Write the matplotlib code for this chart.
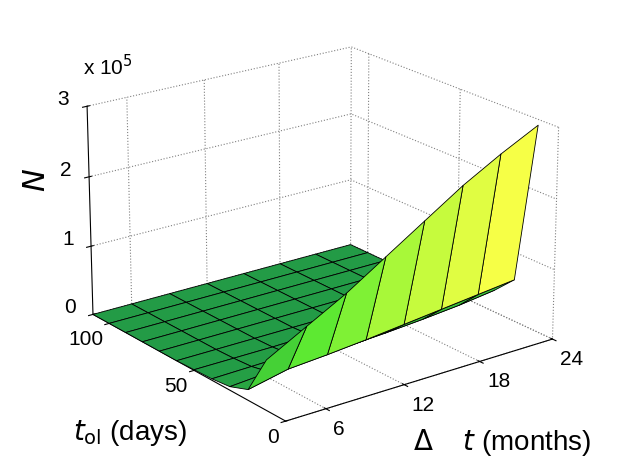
import numpy as np
import matplotlib
matplotlib.use("Agg")
import matplotlib.pyplot as plt
from matplotlib.colors import LinearSegmentedColormap, Normalize

plt.rcParams["font.family"] = ["Liberation Sans", "DejaVu Sans"]
plt.rcParams["grid.linestyle"] = ":"
plt.rcParams["grid.color"] = "#808080"
plt.rcParams["grid.linewidth"] = 0.8

# grid of the surface
dt_months = [3, 6, 9, 12, 15, 18, 21, 24]
t_ol_days = [10, 20, 30, 40, 50, 60, 70, 80, 90, 100, 110]

# N (x 1e5), one row per t_ol value
N_rows = [
    [0.70, 1.00, 1.30, 1.65, 2.00, 2.35, 2.65, 2.92],
    [0.15, 0.27, 0.31, 0.36, 0.42, 0.48, 0.54, 0.60],
    [0.05, 0.09, 0.11, 0.13, 0.16, 0.20, 0.25, 0.32],
    [0.02, 0.03, 0.04, 0.05, 0.06, 0.07, 0.09, 0.11],
    [0.01, 0.01, 0.01, 0.02, 0.02, 0.02, 0.03, 0.03],
    [0, 0, 0, 0, 0, 0, 0, 0],
    [0, 0, 0, 0, 0, 0, 0, 0],
    [0, 0, 0, 0, 0, 0, 0, 0],
    [0, 0, 0, 0, 0, 0, 0, 0],
    [0, 0, 0, 0, 0, 0, 0, 0],
    [0, 0, 0, 0, 0, 0, 0, 0],
]

x_ticks = [6, 12, 18, 24]
y_ticks = [0, 50, 100]
z_ticks = [0, 1, 2, 3]

X, Y = np.meshgrid(dt_months, t_ol_days)
Z = np.array(N_rows) * 1e5

cmap = LinearSegmentedColormap.from_list("greens", [
    (0.00, (35/255, 155/255, 70/255)),
    (0.20, (60/255, 200/255, 55/255)),
    (0.35, (95/255, 235/255, 50/255)),
    (0.60, (180/255, 250/255, 58/255)),
    (0.92, (248/255, 255/255, 70/255)),
    (1.00, (250/255, 255/255, 75/255)),
])
norm = Normalize(0, Z.max())
fcolors = cmap(norm(Z))

fig = plt.figure(figsize=(6.22, 4.68), dpi=100)
ax = fig.add_subplot(projection="3d", proj_type="persp", focal_length=1.2)
ax.set_position([0.005, 0.01, 1.0, 1.0])
ax.set_box_aspect((4.3, 4.3, 2.9), zoom=1.08)

ax.plot_surface(X, Y, Z, facecolors=fcolors, shade=False, rstride=1, cstride=1,
                edgecolor="black", linewidth=0.6, antialiased=True)

ax.set_xlim(3, 24)
ax.set_ylim(0, 110)
ax.set_zlim(0, 3e5)
ax.set_xticks(x_ticks)
ax.set_yticks(y_ticks)
ax.set_zticks([v * 1e5 for v in z_ticks])
ax.set_zticklabels([str(v) for v in z_ticks])
ax.tick_params(labelsize=15)
ax.tick_params(axis="x", pad=-2)
ax.tick_params(axis="y", pad=-4)
ax.tick_params(axis="z", pad=1)

# MATLAB-like label placement: months to the right of the ticks, days to the left
for tick in ax.xaxis.get_major_ticks():
    tick.label1.set_horizontalalignment("left")
for tick in ax.yaxis.get_major_ticks():
    tick.label1.set_horizontalalignment("right")
for tick in ax.zaxis.get_major_ticks():
    tick.label1.set_verticalalignment("baseline")

for axis in (ax.xaxis, ax.yaxis, ax.zaxis):
    axis.set_pane_color((1, 1, 1, 0))
    axis.pane.set_edgecolor("none")

ax.view_init(elev=20.5, azim=-127)

fig.text(83 / 622, 1 - 75 / 468, r"x 10$^5$", fontsize=15, va="baseline")
fig.text(37 / 622, 1 - 180 / 468, r"$N$", fontsize=22, rotation=90,
         ha="center", va="center")
fig.text(73 / 622, 1 - 440 / 468, r"$t_{\rm ol}$ (days)", fontsize=20, va="baseline")
fig.text(413 / 622, 1 - 450 / 468, r"$\Delta$    $t$ (months)", fontsize=20, va="baseline")

fig.savefig("out.png", dpi=100)
